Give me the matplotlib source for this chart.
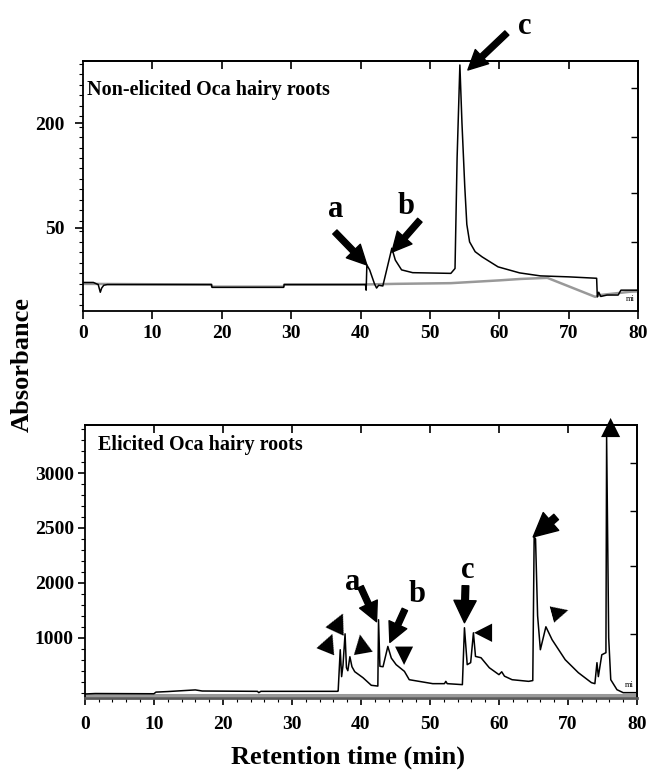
import numpy as np
import matplotlib
matplotlib.use("Agg")
import matplotlib.pyplot as plt
from matplotlib.ticker import MultipleLocator
from matplotlib.transforms import offset_copy

# ---------------- data ----------------
# Non-elicited Oca hairy roots (top chromatogram)
top_time = [0, 1.5, 2.2, 2.5, 2.7, 3.0, 3.5, 13, 18.5, 18.6, 28.9, 29, 35, 40.7, 40.8, 40.9,
            41.3, 42.0, 42.3, 42.6, 43.2, 44.5, 45.0, 45.9, 47.5, 53.0, 53.6, 53.9, 54.3,
            54.6, 55.0, 55.3, 55.7, 56.5, 57.5, 59.8, 62.9, 65.9, 70, 74.0, 74.1, 74.3, 74.6,
            75.5, 77.1, 77.5, 80]
top_abs = [-28, -28, -31, -42, -36, -32, -31, -31, -31, -35, -35, -31, -31, -31, -39, -3,
           -10, -30, -36, -32, -33, 21, 4, -10, -14, -15, -8, 150, 283,
           200, 110, 55, 30, 16, 8.6, -5.7, -14.3, -18.6, -20, -22, -48.6, -42, -48,
           -46, -46, -39, -39]
top_base_time = [0, 18.5, 18.6, 28.9, 29, 40, 45, 53, 60, 63, 66.9, 73.8, 74.5, 80]
top_base_abs = [-30, -31, -34, -34, -31, -31, -30, -29, -25, -23, -21.4, -48.6, -46, -40]
top_yticks = [50, 200]
top_yticklabels = ["50", "200"]
top_right_ticks = [250, 180, 100, 30, -40]
top_peak_times = {"a": 40.9, "b": 44.5, "c": 54.3}

# Elicited Oca hairy roots (bottom chromatogram)
bot_time = [0, 1.5, 10, 10.3, 12, 16, 17, 25, 25.2, 25.5, 36.6, 36.7, 37.0, 37.2, 37.4,
            37.7, 37.9, 38.1, 38.4, 38.7, 39.1, 40.3, 41.5, 42.45, 42.55, 42.75, 43.2,
            43.9, 44.4, 45.1, 46.3, 47.0, 50.4, 52.1, 52.3, 52.5, 54.7, 55.0, 55.4, 55.9,
            56.3, 56.6, 57.4, 58.6, 60.0, 60.4, 60.8, 61.9, 64.3, 64.9, 65.1, 65.3, 65.6,
            66.0, 66.8, 67.7, 69.6, 71.5, 73.4, 73.9, 74.2, 74.4, 74.9, 75.5, 75.6, 75.9,
            76.2, 77.1, 78, 80]
bot_abs = [988, 992, 990, 1005, 1010, 1025, 1015, 1012, 1000, 1012, 1012, 1015, 1391, 1146,
           1250, 1536, 1227, 1200, 1327, 1236, 1191, 1136, 1067, 1060, 1664, 1240, 1236,
           1421, 1315, 1255, 1194, 1118, 1082, 1082, 1103, 1082, 1073, 1591, 1255, 1273,
           1545, 1330, 1318, 1227, 1164, 1190, 1150, 1118, 1103, 1110, 2418, 2400, 1700,
           1391, 1600, 1482, 1300, 1182, 1091, 1082, 1273, 1146, 1345, 1364, 3327, 1500,
           1118, 1027, 1000, 1000]
bot_base_time = [0, 80]
bot_base_abs = [979, 979]
bot_yticks = [1500, 2000, 2500, 3000]
bot_yticklabels = ["1000", "2000", "2500", "3000"]
bot_right_ticks = [1530, 2150, 2650, 3090]
bot_peak_times = {"p1": 37.0, "p2": 37.7, "p3": 38.4, "a": 42.55, "b": 43.9,
                  "sh": 46.3, "c": 55.0, "c2": 56.3, "d": 65.1, "d2": 66.8, "e": 75.6}

xticks = list(range(0, 81, 10))

# ---------------- style ----------------
SERIF = ["Liberation Serif", "DejaVu Serif"]
TRI = ["DejaVu Sans"]
plt.rcParams["font.family"] = SERIF
PX = 0.72  # points per pixel at dpi 100

fig = plt.figure(figsize=(6.48, 7.83), dpi=100)
ax1 = fig.add_axes([0.128, 0.603, 0.857, 0.319])
ax2 = fig.add_axes([0.131, 0.109, 0.852, 0.348])


def peak(t_arr, v_arr, t0):
    t_arr = np.asarray(t_arr); v_arr = np.asarray(v_arr)
    m = np.abs(t_arr - t0) <= 0.15
    i = np.argmax(np.where(m, v_arr, -np.inf))
    return t_arr[i], v_arr[i]


def label(ax, xy, txt, off, size=22, rot=0, family=None):
    ax.annotate(txt, xy=xy, xytext=(off[0] * PX, off[1] * PX), textcoords="offset points",
                ha="center", va="center", fontsize=size, fontweight="bold", rotation=rot,
                family=family if family else SERIF, annotation_clip=False)


def shifted_arrow(ax, xy, tip, tail, ms=14):
    tr_tip = offset_copy(ax.transData, fig=fig, x=tip[0] * PX, y=tip[1] * PX, units="points")
    tr_tail = offset_copy(ax.transData, fig=fig, x=tail[0] * PX, y=tail[1] * PX, units="points")
    ax.annotate("", xy=xy, xycoords=tr_tip, xytext=xy, textcoords=tr_tail,
                arrowprops=dict(arrowstyle="simple,head_length=1.0,head_width=1.0,tail_width=0.3",
                                color="black", shrinkA=0, shrinkB=0, mutation_scale=ms),
                annotation_clip=False)


def style_axes(ax, right_ticks):
    sec = ax.secondary_xaxis("top")
    sec.set_xticks(xticks[1:-1]); sec.set_xticklabels([])
    sec.tick_params(direction="in", length=6, width=1.2)
    secr = ax.secondary_yaxis("right")
    secr.set_yticks(right_ticks); secr.set_yticklabels([])
    secr.tick_params(direction="in", length=5, width=1.0)
    for s in list(ax.spines.values()) + list(sec.spines.values()) + list(secr.spines.values()):
        s.set_linewidth(1.3)
    for lab in ax.get_xticklabels() + ax.get_yticklabels():
        lab.set_fontweight("bold")


# ---------------- top panel ----------------
ax1.plot(top_base_time, top_base_abs, color="0.6", lw=1.8, zorder=2)
ax1.plot(top_time, top_abs, color="black", lw=1.1, zorder=3)
ax1.set_xlim(0, 80)
ax1.set_ylim(-68.6, 288.6)
ax1.set_xticks(xticks)
ax1.set_xticklabels([str(x) for x in xticks])
ax1.set_yticks(top_yticks)
ax1.set_yticklabels(top_yticklabels)
ax1.yaxis.set_minor_locator(MultipleLocator(15))
ax1.tick_params(axis="both", which="major", direction="out", length=6, width=1.2,
                labelsize=14, pad=4)
ax1.tick_params(axis="y", which="major", pad=7)
ax1.tick_params(axis="y", which="minor", direction="out", length=3, width=0.8)
style_axes(ax1, top_right_ticks)

ax1.text(0.007, 0.884, "Non-elicited Oca hairy roots", transform=ax1.transAxes,
         fontsize=14.5, fontweight="bold", ha="left", va="center")
ax1.text(0.993, 0.03, "mi", transform=ax1.transAxes, fontsize=6, ha="right", va="bottom")

pa = peak(top_time, top_abs, top_peak_times["a"])
pb = peak(top_time, top_abs, top_peak_times["b"])
pc = peak(top_time, top_abs, top_peak_times["c"])
shifted_arrow(ax1, pa, (0, 0), (-32, 33))
label(ax1, pa, "a", (-31, 55))
shifted_arrow(ax1, pb, (0, -4), (28, 28))
label(ax1, pb, "b", (14, 42))
shifted_arrow(ax1, pc, (8, -5), (47, 32))
label(ax1, pc, "c", (65, 38))

# ---------------- bottom panel ----------------
ax2.plot(bot_base_time, bot_base_abs, color="0.6", lw=2.2, zorder=2)
ax2.plot(bot_time, bot_abs, color="black", lw=1.1, zorder=3)
ax2.set_xlim(0, 80)
ax2.set_ylim(954.5, 3436)
ax2.set_xticks(xticks)
ax2.set_xticklabels([str(x) for x in xticks])
ax2.xaxis.set_minor_locator(MultipleLocator(2))
ax2.set_yticks(bot_yticks)
ax2.set_yticklabels(bot_yticklabels)
ax2.yaxis.set_minor_locator(MultipleLocator(100))
ax2.tick_params(axis="both", which="major", direction="out", length=5, width=1.2,
                labelsize=14, pad=3)
ax2.tick_params(axis="x", which="major", pad=8)
ax2.tick_params(axis="both", which="minor", direction="out", length=3, width=0.8)
style_axes(ax2, bot_right_ticks)
ax2.spines["bottom"].set_color("0.35")
ax2.spines["bottom"].set_linewidth(2)

ax2.text(0.023, 0.927, "Elicited Oca hairy roots", transform=ax2.transAxes,
         fontsize=14.5, fontweight="bold", ha="left", va="center")
ax2.text(0.995, 0.03, "mi", transform=ax2.transAxes, fontsize=6, ha="right", va="bottom")

bp = {k: peak(bot_time, bot_abs, v) for k, v in bot_peak_times.items()}
# the shoulder below b is not a local max: take the trace value at that time
bp["sh"] = (bot_peak_times["sh"], float(np.interp(bot_peak_times["sh"], bot_time, bot_abs)))

shifted_arrow(ax2, bp["a"], (-2, -2), (-18, 33))
label(ax2, bp["a"], "a", (-26, 37))
shifted_arrow(ax2, bp["b"], (2, 4), (17, 37))
label(ax2, bp["b"], "b", (29, 52))
shifted_arrow(ax2, bp["c"], (0, 5), (1, 42), ms=16)
label(ax2, bp["c"], "c", (3, 57))
shifted_arrow(ax2, bp["d"], (-1, 0), (22, 20), ms=17)

label(ax2, bp["p1"], "\u25B2", (-12, 7), size=18, rot=-22, family=TRI)
label(ax2, bp["p2"], "\u25B2", (-7, 12), size=19, rot=-25, family=TRI)
label(ax2, bp["p3"], "\u25B2", (12, 13), size=18, rot=10, family=TRI)
label(ax2, bp["sh"], "\u25BC", (0, 16), size=17, family=TRI)
label(ax2, bp["c2"], "\u25C0", (10, 1), size=17, family=TRI)
label(ax2, bp["d2"], "\u25B6", (14, 15), size=16, rot=15, family=TRI)
label(ax2, bp["e"], "\u25B2", (4, 10), size=18, family=TRI)

# ---------------- shared labels ----------------
fig.text(0.035, 0.535, "Absorbance", rotation=90, fontsize=19, fontweight="bold",
         ha="center", va="center")
fig.text(0.537, 0.033, "Retention time (min)", fontsize=19, fontweight="bold",
         ha="center", va="center")

fig.savefig("out.png", dpi=100)
